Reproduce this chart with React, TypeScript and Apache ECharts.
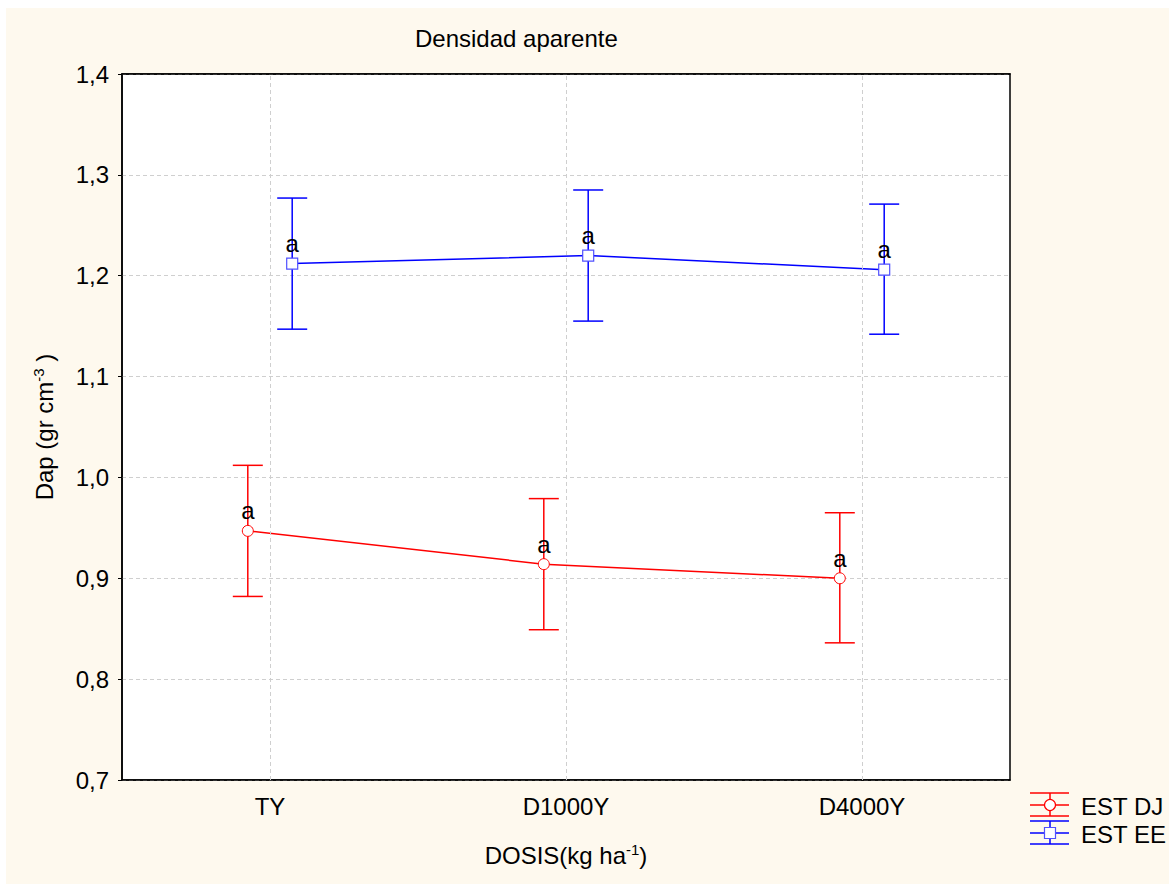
import React, { useEffect, useRef } from "react";
import * as echarts from "echarts";

const categories = ["TY", "D1000Y", "D4000Y"];
const seriesNames = ["EST DJ", "EST EE"];
const estDJMean = [0.947, 0.914, 0.9];
const estDJLow = [0.882, 0.849, 0.836];
const estDJHigh = [1.012, 0.979, 0.965];
const estEEMean = [1.212, 1.22, 1.206];
const estEELow = [1.147, 1.155, 1.142];
const estEEHigh = [1.277, 1.285, 1.271];
const estDJLetters = ["a", "a", "a"];
const estEELetters = ["a", "a", "a"];
const yTicks = [0.7, 0.8, 0.9, 1.0, 1.1, 1.2, 1.3, 1.4];

const RED = "#ff0000";
const BLUE = "#0000ff";
const OFFSET = 0.075;
const FONT = "Liberation Sans, Arial, sans-serif";
const FS = 24;

export default function App() {
  const ref = useRef<HTMLDivElement>(null);
  useEffect(() => {
    if (!ref.current) return;
    const chart = echarts.init(ref.current, null, { renderer: "svg" });

    const mk = (means: number[], off: number) => means.map((m, i) => [i + off, m]);
    const eb = (lo: number[], hi: number[], off: number) => lo.map((l, i) => [i + off, l, hi[i]]);

    const errRender = (color: string) => (params: any, api: any) => {
      const x = api.value(0);
      const top = api.coord([x, api.value(2)]);
      const bot = api.coord([x, api.value(1)]);
      const hw = 15;
      const style = { stroke: color, lineWidth: 1.5 };
      return {
        type: "group",
        children: [
          { type: "line", shape: { x1: top[0], y1: top[1], x2: bot[0], y2: bot[1] }, style },
          { type: "line", shape: { x1: top[0] - hw, y1: top[1], x2: top[0] + hw, y2: top[1] }, style },
          { type: "line", shape: { x1: bot[0] - hw, y1: bot[1], x2: bot[0] + hw, y2: bot[1] }, style },
        ],
      };
    };

    const lg = (y0: number, color: string, marker: any, name: string) => [
      { type: "line", shape: { x1: 1024, y1: y0 - 12, x2: 1063, y2: y0 - 12 }, style: { stroke: color, lineWidth: 1.5 } },
      { type: "line", shape: { x1: 1024, y1: y0, x2: 1063, y2: y0 }, style: { stroke: color, lineWidth: 1.5 } },
      { type: "line", shape: { x1: 1024, y1: y0 + 11, x2: 1063, y2: y0 + 11 }, style: { stroke: color, lineWidth: 1.5 } },
      { type: "line", shape: { x1: 1044, y1: y0 - 12, x2: 1044, y2: y0 + 11 }, style: { stroke: color, lineWidth: 1.5 } },
      marker,
      { type: "text", x: 1075, y: y0 + 1, style: { text: name, fontSize: FS, fontFamily: FONT, fill: "#000", verticalAlign: "middle", align: "left" } },
    ];

    const richSup = { sup: { fontSize: 15, verticalAlign: "top", padding: [0, 0, 12, 0], fontFamily: FONT, color: "#000" } };

    const option: any = {
      animation: false,
      backgroundColor: "#fef9ee",
      textStyle: { fontFamily: FONT },
      title: {
        text: "Densidad aparente",
        left: 404,
        top: 13,
        textStyle: { fontSize: FS, fontWeight: "normal", color: "#000", fontFamily: FONT },
      },
      grid: {
        left: 116,
        top: 66,
        width: 888,
        height: 706,
        show: true,
        backgroundColor: "#ffffff",
        borderColor: "#000",
        borderWidth: 1.5,
      },
      xAxis: [
        {
          type: "category",
          data: categories,
          position: "bottom",
          boundaryGap: true,
          axisLine: { lineStyle: { color: "#000", width: 1.5 } },
          axisTick: { alignWithLabel: true, inside: true, length: 5, lineStyle: { color: "#000" } },
          axisLabel: { fontSize: FS, color: "#000", margin: 14, fontFamily: FONT },
          splitLine: { show: false },
          name: "DOSIS(kg ha{sup|-1})",
          nameLocation: "middle",
          nameGap: 62,
          nameTextStyle: { fontSize: FS, color: "#000", fontFamily: FONT, rich: richSup },
        },
        {
          type: "category",
          data: categories,
          position: "top",
          boundaryGap: true,
          axisLine: { lineStyle: { color: "#000", width: 1.5 } },
          axisTick: { alignWithLabel: true, inside: true, length: 5, lineStyle: { color: "#000" } },
          axisLabel: { show: false },
          splitLine: { show: false },
        },
        {
          type: "value",
          min: -0.5,
          max: 2.5,
          show: false,
          splitLine: { show: false },
        },
      ],
      yAxis: {
        type: "value",
        min: 0.7,
        max: 1.4,
        interval: 0.1,
        axisLine: { show: true, onZero: false, lineStyle: { color: "#000", width: 1.5 } },
        axisTick: { show: true, inside: false, length: 4, lineStyle: { color: "#000" } },
        axisLabel: {
          fontSize: FS,
          color: "#000",
          margin: 13,
          fontFamily: FONT,
          formatter: (v: number) => {
            const t = yTicks.find((y) => Math.abs(y - v) < 1e-6);
            return (t !== undefined ? t : v).toFixed(1).replace(".", ",");
          },
        },
        splitLine: { show: true, lineStyle: { color: "#cfcfcf", type: [4, 3], width: 1 } },
        name: "Dap (gr cm{sup|-3} )",
        nameLocation: "middle",
        nameGap: 64,
        nameRotate: 90,
        nameTextStyle: { fontSize: FS, color: "#000", fontFamily: FONT, rich: richSup },
      },
      series: [
        {
          type: "line",
          xAxisIndex: 2,
          data: [],
          z: 1,
          silent: true,
          markLine: {
            silent: true,
            symbol: "none",
            label: { show: false },
            lineStyle: { color: "#cfcfcf", type: [4, 3], width: 1 },
            data: categories.map((_, i) => ({ xAxis: i })),
          },
        },
        {
          type: "custom",
          name: seriesNames[0] + " err",
          xAxisIndex: 2,
          z: 2,
          renderItem: errRender(RED),
          data: eb(estDJLow, estDJHigh, -OFFSET),
        },
        {
          type: "custom",
          name: seriesNames[1] + " err",
          xAxisIndex: 2,
          z: 2,
          renderItem: errRender(BLUE),
          data: eb(estEELow, estEEHigh, OFFSET),
        },
        {
          type: "line",
          name: seriesNames[0],
          xAxisIndex: 2,
          z: 3,
          data: mk(estDJMean, -OFFSET),
          symbol: "circle",
          symbolSize: 11,
          lineStyle: { color: RED, width: 1.5 },
          itemStyle: { color: "#fff", borderColor: RED, borderWidth: 1 },
          label: {
            show: true,
            position: "top",
            distance: 2,
            fontSize: FS,
            color: "#000",
            fontFamily: FONT,
            formatter: (p: any) => estDJLetters[p.dataIndex],
          },
        },
        {
          type: "line",
          name: seriesNames[1],
          xAxisIndex: 2,
          z: 3,
          data: mk(estEEMean, OFFSET),
          symbol: "rect",
          symbolSize: 11,
          lineStyle: { color: BLUE, width: 1.5 },
          itemStyle: { color: "#fff", borderColor: "#5050ff", borderWidth: 1.2 },
          label: {
            show: true,
            position: "top",
            distance: 2,
            fontSize: FS,
            color: "#000",
            fontFamily: FONT,
            formatter: (p: any) => estEELetters[p.dataIndex],
          },
        },
      ],
      graphic: [
        ...lg(797, RED, { type: "circle", shape: { cx: 1044, cy: 797, r: 5.5 }, style: { fill: "#fff", stroke: RED, lineWidth: 1.2 } }, seriesNames[0]),
        ...lg(825, BLUE, { type: "rect", shape: { x: 1038.5, y: 819.5, width: 11, height: 11 }, style: { fill: "#fff", stroke: "#5050ff", lineWidth: 1.2 } }, seriesNames[1]),
      ],
    };
    chart.setOption(option);
    return () => chart.dispose();
  }, []);
  return <div ref={ref} style={{ position: "absolute", left: 6, top: 8, width: 1163, height: 876 }} />;
}
